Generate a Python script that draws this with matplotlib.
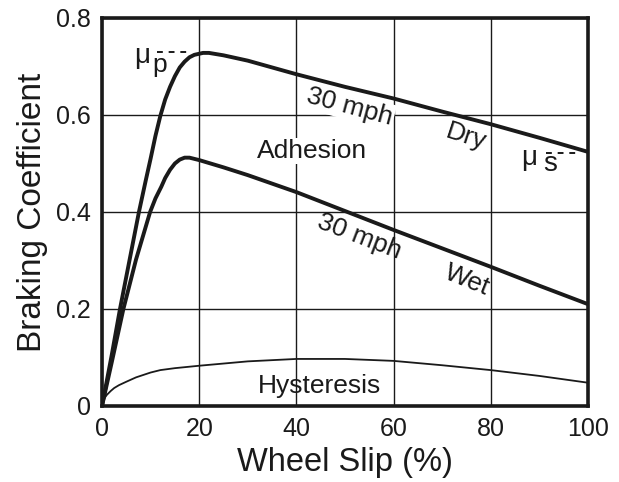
"""Braking coefficient vs wheel slip (dry / wet adhesion and hysteresis)."""

import matplotlib
matplotlib.use("Agg")
import matplotlib.pyplot as plt

plt.rcParams["font.family"] = ["Liberation Sans", "DejaVu Sans"]

INK = "#1a1a1a"

# wheel slip (%) and braking coefficient
dry_slip = [0, 2, 3.7, 6, 7.6, 9, 10, 11, 12, 13, 14, 15, 16, 17, 18, 19, 20.8, 22, 25,
            30, 40, 50, 60, 70, 80, 90, 100]
dry_mu = [0, 0.105, 0.2, 0.318, 0.4, 0.465, 0.51, 0.557, 0.598, 0.632, 0.658, 0.68, 0.698,
          0.71, 0.719, 0.724, 0.728, 0.728, 0.723, 0.712, 0.684, 0.658, 0.634, 0.607,
          0.581, 0.553, 0.524]

wet_slip = [0, 2, 4.4, 7, 9.9, 11, 12.2, 13, 14, 15, 16, 17, 18, 20, 25, 30, 40, 50, 60,
            70, 80, 90, 100]
wet_mu = [0, 0.09, 0.2, 0.302, 0.4, 0.428, 0.452, 0.47, 0.487, 0.5, 0.508, 0.512, 0.512,
          0.507, 0.492, 0.476, 0.441, 0.402, 0.363, 0.325, 0.287, 0.248, 0.21]

hys_slip = [0, 0.5, 1, 1.8, 2.5, 3.5, 5, 7, 10, 12, 15, 20, 30, 40, 50, 60, 70, 80, 90, 100]
hys_mu = [0.006, 0.016, 0.023, 0.031, 0.037, 0.043, 0.05, 0.059, 0.069, 0.074, 0.078,
          0.083, 0.092, 0.097, 0.097, 0.093, 0.084, 0.074, 0.062, 0.048]

x_ticks = [0, 20, 40, 60, 80, 100]
y_ticks = [0, 0.2, 0.4, 0.6, 0.8]
y_tick_labels = ["0", "0.2", "0.4", "0.6", "0.8"]


def main():
    fig = plt.figure(figsize=(6.19, 4.82), dpi=100)
    ax = fig.add_axes([0.1648, 0.1577, 0.785, 0.805])

    ax.set_xlim(0, 100)
    ax.set_ylim(0, 0.8)
    ax.set_xticks(x_ticks)
    ax.set_yticks(y_ticks)
    ax.set_yticklabels(y_tick_labels)
    ax.tick_params(length=0, labelsize=18, colors=INK)
    ax.tick_params(axis="x", pad=8)
    ax.tick_params(axis="y", pad=8)
    ax.grid(True, color=INK, linewidth=1.0)
    ax.set_axisbelow(True)
    for sp in ax.spines.values():
        sp.set_linewidth(2.6)
        sp.set_color(INK)

    ax.plot(dry_slip, dry_mu, color=INK, lw=2.8, solid_capstyle="round",
            solid_joinstyle="round", zorder=3)
    ax.plot(wet_slip, wet_mu, color=INK, lw=2.8, solid_capstyle="round",
            solid_joinstyle="round", zorder=3)
    ax.plot(hys_slip, hys_mu, color=INK, lw=1.3, zorder=3)

    ax.set_xlabel("Wheel Slip (%)", fontsize=23.5, color=INK, labelpad=4)
    ax.set_ylabel("Braking Coefficient", fontsize=24, color=INK, labelpad=6)

    lab = dict(fontsize=19, color=INK, ha="center", va="center", rotation_mode="anchor", zorder=4)
    white = dict(facecolor="white", edgecolor="none", pad=1)
    ax.text(51.0, 0.617, "30 mph", rotation=-15, bbox=white, **lab)
    ax.text(75, 0.555, "Dry", rotation=-18, **lab)
    ax.text(53, 0.35, "30 mph", rotation=-21, **lab)
    ax.text(75.2, 0.26, "Wet", rotation=-22, **lab)
    ax.text(43.3, 0.526, "Adhesion", bbox=white, **lab)
    ax.text(44.8, 0.042, "Hysteresis", **lab)

    # peak and sliding markers
    ax.text(8.3, 0.722, "μ", fontsize=20, color=INK, ha="center", va="center")
    ax.text(11.9, 0.703, "p", fontsize=19, color=INK, ha="center", va="center")
    ax.plot([11.3, 17.8], [0.73, 0.73], color=INK, lw=1.4, ls=(0, (3, 3)))
    ax.text(88.0, 0.511, "μ", fontsize=20, color=INK, ha="center", va="center")
    ax.text(92.3, 0.498, "s", fontsize=20, color=INK, ha="center", va="center")
    ax.plot([91.3, 98.0], [0.522, 0.522], color=INK, lw=1.4, ls=(0, (3, 3)))

    fig.savefig("out.png", dpi=100, facecolor="white")


if __name__ == "__main__":
    main()
